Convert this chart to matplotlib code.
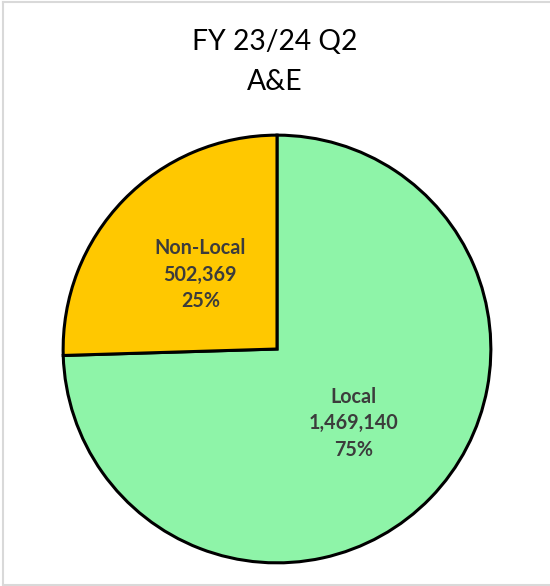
import matplotlib
matplotlib.use("Agg")
import matplotlib.pyplot as plt
import numpy as np
from matplotlib.lines import Line2D

categories = ["Local", "Non-Local"]
values = [1469140, 502369]
colors = ["#8EF4A8", "#FFC800"]
title_lines = ["FY 23/24 Q2", "A&E"]

W, H = 550, 586
fig = plt.figure(figsize=(W / 100, H / 100), dpi=100)
fig.patch.set_facecolor("white")

cx, cy, r = 277, 349, 216
ax = fig.add_axes([(cx - r) / W, (H - cy - r) / H, 2 * r / W, 2 * r / H])
wedges, _ = ax.pie(values, colors=colors, startangle=90, counterclock=False,
                   radius=1, wedgeprops=dict(edgecolor="black", linewidth=2.2))
ax.set_xlim(-1.01, 1.01)
ax.set_ylim(-1.01, 1.01)
ax.set_aspect("equal")
ax.axis("off")

total = sum(values)
font = ["Lato", "DejaVu Sans"]
for w, cat, v in zip(wedges, categories, values):
    ang = np.deg2rad((w.theta1 + w.theta2) / 2)
    d = 0.5
    x, y = d * np.cos(ang), d * np.sin(ang)
    pct = round(v / total * 100)
    ax.text(x, y, f"{cat}\n{v:,}\n{pct}%", ha="center", va="center",
            fontsize=14.2, fontweight="bold", color="#3C3C3C", family=font,
            linespacing=1.42)

fig.text(0.5, 1 - 42 / H, title_lines[0], ha="center", va="center",
         fontsize=20.3, color="black", family=font)
fig.text(0.5, 1 - 82 / H, title_lines[1], ha="center", va="center",
         fontsize=20.3, color="black", family=font)

# light gray border (left, top, bottom)
bc = "#D9D9D9"
fig.add_artist(Line2D([2.5 / W, 2.5 / W], [1.5 / H, 1 - 1.5 / H], color=bc, lw=1.5, transform=fig.transFigure))
fig.add_artist(Line2D([2.5 / W, 1], [1 - 1.5 / H, 1 - 1.5 / H], color=bc, lw=1.5, transform=fig.transFigure))
fig.add_artist(Line2D([2.5 / W, 1], [1.5 / H, 1.5 / H], color=bc, lw=1.5, transform=fig.transFigure))

fig.savefig("out.png", dpi=100, facecolor="white")
